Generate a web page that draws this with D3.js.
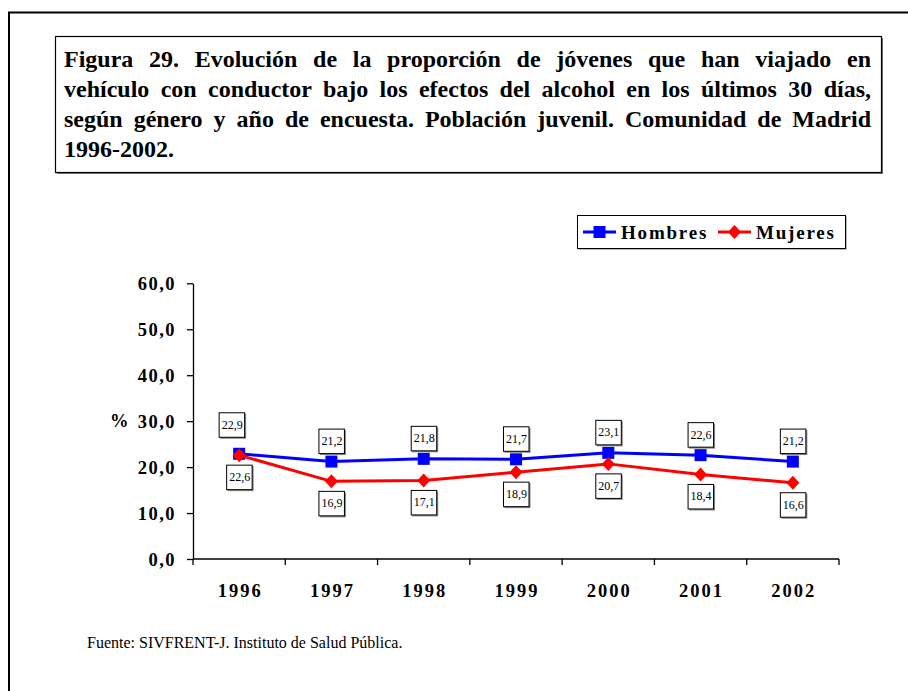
<!DOCTYPE html>
<html>
<head>
<meta charset="utf-8">
<script src="https://cdn.jsdelivr.net/npm/d3@7"></script>
<style>
  body { margin: 0; background: #fff; }
  svg { display: block; font-family: "Liberation Serif", "Times New Roman", serif; }
</style>
</head>
<body>
<svg width="908" height="691"></svg>
<script>
// Data
const years = ["1996", "1997", "1998", "1999", "2000", "2001", "2002"];
const hombres = [22.9, 21.2, 21.8, 21.7, 23.1, 22.6, 21.2];
const mujeres = [22.6, 16.9, 17.1, 18.9, 20.7, 18.4, 16.6];
const yTicks = [0, 10, 20, 30, 40, 50, 60];
const titleLines = [
  "Figura 29. Evolución de la proporción de jóvenes que han viajado en",
  "vehículo con conductor bajo los efectos del alcohol en los últimos 30 días,",
  "según género y año de encuesta. Población juvenil. Comunidad de Madrid",
  "1996-2002."
];
const seriesNames = ["Hombres", "Mujeres"];
const source = "Fuente: SIVFRENT-J. Instituto de Salud Pública.";

const svg = d3.select("svg");
const comma = d => d3.format(".1f")(d).replace(".", ",");

// Outer frame (runs off the right and bottom edges)
svg.append("rect")
    .attr("x", 9).attr("y", 12.5)
    .attr("width", 1000).attr("height", 1000)
    .attr("fill", "none").attr("stroke", "#000").attr("stroke-width", 2);

// Title box with a small grey shadow
const tb = { x: 55.5, y: 36.5, w: 826, h: 136 };
svg.append("rect")
    .attr("x", tb.x + 1.5).attr("y", tb.y + 1.5)
    .attr("width", tb.w).attr("height", tb.h)
    .attr("fill", "#777");
svg.append("rect")
    .attr("x", tb.x).attr("y", tb.y)
    .attr("width", tb.w).attr("height", tb.h)
    .attr("fill", "#fff").attr("stroke", "#000").attr("stroke-width", 1.2);

// Justified title lines
const titleLeft = 64, titleRight = 871;
const titleTexts = titleLines.map((line, i) => svg.append("text")
    .attr("x", titleLeft)
    .attr("y", 67 + i * 30)
    .style("font-weight", "bold")
    .text(line));

// pick the largest size (up to 24px) where every line still fits
let titleSize = 24;
const widest = () => d3.max(titleTexts, t => t.node().getComputedTextLength()
    + (t.text().split(" ").length - 1) * 2);
titleTexts.forEach(t => t.style("font-size", titleSize + "px"));
while (widest() > titleRight - titleLeft && titleSize > 18) {
  titleSize -= 0.5;
  titleTexts.forEach(t => t.style("font-size", titleSize + "px"));
}
titleTexts.forEach((t, i) => {
  if (i < titleLines.length - 1) {
    const gaps = titleLines[i].split(" ").length - 1;
    const len = t.node().getComputedTextLength();
    t.style("word-spacing", ((titleRight - titleLeft - len) / gaps) + "px");
  }
});

// Scales
const x = d3.scaleBand().domain(years).range([193, 839]);
const y = d3.scaleLinear().domain([0, 60]).range([559, 283.3]);
const cx = d => x(d) + x.bandwidth() / 2;

// Y axis
const yAxis = svg.append("g")
    .attr("transform", "translate(193,0)")
    .call(d3.axisLeft(y).tickValues(yTicks).tickFormat(comma)
      .tickSize(6).tickSizeOuter(0).tickPadding(11));
yAxis.attr("font-family", null);
yAxis.select(".domain").attr("stroke", "#000").attr("stroke-width", 1.3);
yAxis.selectAll(".tick line").attr("stroke", "#000").attr("stroke-width", 1.3);
yAxis.selectAll(".tick text")
    .attr("fill", "#000")
    .attr("dy", null)
    .attr("y", 6.5)
    .style("font-size", "18.5px")
    .style("font-weight", "bold")
    .style("letter-spacing", "1.5px");

svg.append("text")
    .attr("x", 110).attr("y", 427)
    .style("font-size", "18.5px").style("font-weight", "bold")
    .text("%");

// X axis: ticks at band edges, labels at band centres
const xAxis = svg.append("g").attr("transform", "translate(0,559)");
xAxis.append("line")
    .attr("x1", 193).attr("x2", 839)
    .attr("stroke", "#000").attr("stroke-width", 1.3);
xAxis.selectAll(".xt")
    .data(years.concat(["end"]))
    .enter().append("line")
    .attr("class", "xt")
    .attr("x1", (d, i) => i < years.length ? x(d) : x.range()[1])
    .attr("x2", (d, i) => i < years.length ? x(d) : x.range()[1])
    .attr("y1", 0).attr("y2", 6)
    .attr("stroke", "#000").attr("stroke-width", 1.3);
xAxis.selectAll(".xl")
    .data(years)
    .enter().append("text")
    .attr("class", "xl")
    .attr("x", d => cx(d) + 1)
    .attr("y", 38)
    .attr("text-anchor", "middle")
    .style("font-size", "18.5px").style("font-weight", "bold")
    .style("letter-spacing", "2px")
    .text(d => d);

// Lines and markers
const series = [
  { name: seriesNames[0], values: hombres, color: "#0000ff", shape: "square", labelDy: -20.5 },
  { name: seriesNames[1], values: mujeres, color: "#ff0000", shape: "diamond", labelDy: 22 }
];
const line = d3.line().x((d, i) => cx(years[i])).y(d => y(d));

function marker(g, shape, color) {
  if (shape === "square") {
    g.append("rect").attr("x", -6).attr("y", -6).attr("width", 12).attr("height", 12)
        .attr("fill", color);
  } else {
    g.append("path").attr("d", "M0,-7L6.5,0L0,7L-6.5,0Z").attr("fill", color);
  }
}

series.forEach(s => {
  svg.append("path")
      .attr("d", line(s.values))
      .attr("fill", "none")
      .attr("stroke", s.color)
      .attr("stroke-width", 3);
  s.values.forEach((v, i) => {
    const g = svg.append("g").attr("transform", `translate(${cx(years[i])},${y(v)})`);
    marker(g, s.shape, s.color);
  });
});

// Value labels in boxes
series.forEach((s, si) => {
  s.values.forEach((v, i) => {
    let lx = cx(years[i]), ly = y(v) + s.labelDy;
    // first Hombres label nudged up-left so it clears the Mujeres one
    if (si === 0 && i === 0) { lx -= 7.5; ly -= 8.5; }
    const g = svg.append("g").attr("transform", `translate(${lx},${ly})`);
    g.append("rect").attr("x", -11.5).attr("y", -11).attr("width", 26).attr("height", 25)
        .attr("fill", "#888");
    g.append("rect").attr("x", -12.5).attr("y", -12).attr("width", 25.5).attr("height", 24.5)
        .attr("fill", "#fff").attr("stroke", "#000").attr("stroke-width", 1);
    g.append("text")
        .attr("x", 0.5).attr("y", 4)
        .attr("text-anchor", "middle")
        .style("font-size", "12px")
        .text(comma(v));
  });
});

// Legend
const lg = svg.append("g");
lg.append("rect").attr("x", 578.5).attr("y", 216.5).attr("width", 268).attr("height", 33).attr("fill", "#777");
lg.append("rect").attr("x", 577.5).attr("y", 215.5).attr("width", 268).attr("height", 33)
    .attr("fill", "#fff").attr("stroke", "#000").attr("stroke-width", 1);
const legendItems = [
  { x0: 583, x1: 616, tx: 621 },
  { x0: 718, x1: 751, tx: 756 }
];
series.forEach((s, i) => {
  const it = legendItems[i];
  lg.append("line").attr("x1", it.x0).attr("x2", it.x1).attr("y1", 232).attr("y2", 232)
      .attr("stroke", s.color).attr("stroke-width", 3);
  const g = lg.append("g").attr("transform", `translate(${(it.x0 + it.x1) / 2},232)`);
  marker(g, s.shape, s.color);
  lg.append("text").attr("x", it.tx).attr("y", 239)
      .style("font-size", "19px").style("font-weight", "bold")
      .style("letter-spacing", "1.8px")
      .text(s.name);
});

// Source
svg.append("text")
    .attr("x", 87).attr("y", 648)
    .style("font-size", "16px")
    .text(source);
</script>
</body>
</html>
